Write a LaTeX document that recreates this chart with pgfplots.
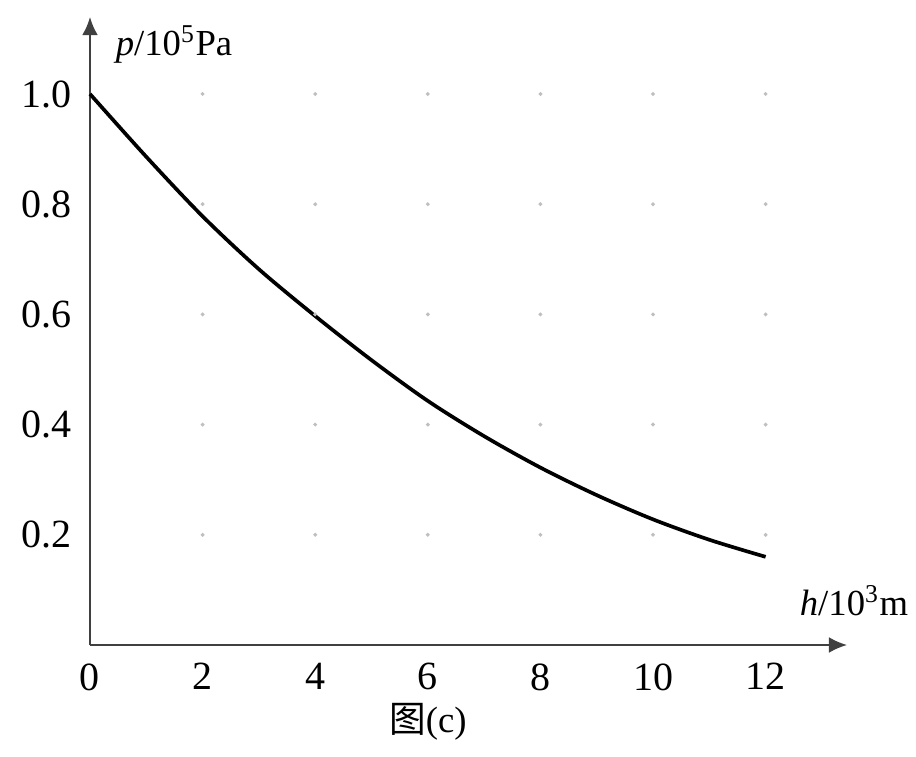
\documentclass[border=0pt]{standalone}
\usepackage{pgfplots}
\pgfplotsset{compat=1.18}
\usepackage{fontspec}
\setmainfont{Liberation Serif}
\newfontfamily\cjk{Noto Sans CJK SC}
\usetikzlibrary{arrows.meta}
\begin{document}
\begin{tikzpicture}
\useasboundingbox (-27pt,-33.3pt) rectangle (247.8pt,193.5pt);
\begin{axis}[
  anchor=origin, at={(0pt,0pt)},
  x=16.89pt, y=165.3pt,
  xmin=0, xmax=13.45, ymin=0, ymax=1.14,
  axis lines=left,
  axis line style={draw=black!75, line width=0.8pt, -{Latex[length=5.5pt,width=4.8pt]}},
  xtick={0,2,4,6,8,10,12},
  ytick={0.2,0.4,0.6,0.8,1.0},
  major tick length=0pt,
  /pgf/number format/assume math mode=true,
  tick label style={font=\fontsize{12}{12}\selectfont},
  xticklabel style={yshift=-2pt},
  yticklabel style={xshift=-2pt, /pgf/number format/.cd, fixed, precision=1, fixed zerofill},
  clip=false,
]
\addplot[only marks, mark=*, mark size=0.35pt, draw=black!25, fill=black!25] coordinates {
(2,0.2)(4,0.2)(6,0.2)(8,0.2)(10,0.2)(12,0.2)
(2,0.4)(4,0.4)(6,0.4)(8,0.4)(10,0.4)(12,0.4)
(2,0.6)(4,0.6)(6,0.6)(8,0.6)(10,0.6)(12,0.6)
(2,0.8)(4,0.8)(6,0.8)(8,0.8)(10,0.8)(12,0.8)
(2,1.0)(4,1.0)(6,1.0)(8,1.0)(10,1.0)(12,1.0)
};
\addplot[black, line width=1.1pt, smooth] coordinates {
(0,1.0)(1,0.886)(2,0.778)(3,0.682)(4,0.597)(5,0.517)(6,0.443)(7,0.379)
(8,0.322)(9,0.272)(10,0.228)(11,0.191)(12,0.16)
};
\node[anchor=west, font=\fontsize{11}{12}\selectfont] at (axis cs:0.25,1.09) {\textit{p}/10\textsuperscript{5}Pa};
\node[anchor=west, font=\fontsize{11}{12}\selectfont] at (axis cs:12.4,0.08) {\textit{h}/10\textsuperscript{3}m};
\node[font=\fontsize{11}{12}\selectfont] at (axis cs:6,-0.14) {{\cjk 图}(c)};
\end{axis}
\end{tikzpicture}
\end{document}
